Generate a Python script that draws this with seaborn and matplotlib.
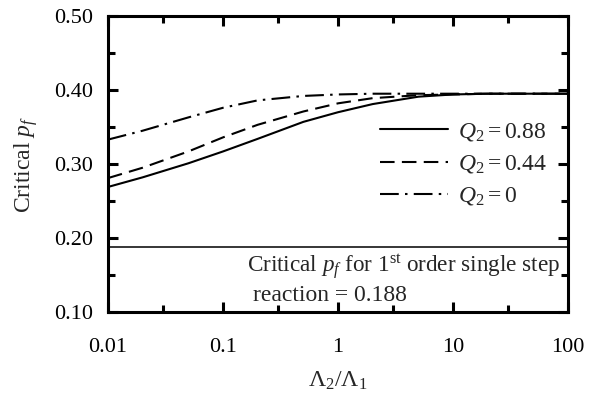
import numpy as np
import pandas as pd
import matplotlib
matplotlib.use("Agg")
import matplotlib.pyplot as plt
import seaborn as sns
from matplotlib.ticker import FixedLocator, FixedFormatter, NullFormatter

# ---- data ----
ratio = [0.01, 0.02, 0.05, 0.1, 0.2, 0.5, 1, 2, 5, 10, 20, 50, 100]
pf_q088 = [0.269, 0.282, 0.301, 0.317, 0.334, 0.357, 0.370, 0.381, 0.391, 0.394, 0.395, 0.395, 0.395]
pf_q044 = [0.281, 0.295, 0.317, 0.336, 0.353, 0.371, 0.382, 0.389, 0.393, 0.394, 0.395, 0.395, 0.395]
pf_q000 = [0.333, 0.345, 0.363, 0.376, 0.386, 0.392, 0.394, 0.395, 0.395, 0.395, 0.395, 0.395, 0.395]
series_labels = [r"$Q_2 = 0.88$", r"$Q_2 = 0.44$", r"$Q_2 = 0$"]
single_step_pf = 0.188

x_major = [0.01, 0.1, 1, 10, 100]
x_major_labels = ["0.01", "0.1", "1", "10", "100"]
x_minor = [0.03, 0.3, 3, 30]
y_major = [0.10, 0.20, 0.30, 0.40, 0.50]
y_major_labels = ["0.10", "0.20", "0.30", "0.40", "0.50"]
y_minor = [0.15, 0.25, 0.35, 0.45]

df = pd.DataFrame({
    "ratio": ratio * 3,
    "pf": pf_q088 + pf_q044 + pf_q000,
    "series": [series_labels[0]] * len(ratio) + [series_labels[1]] * len(ratio)
              + [series_labels[2]] * len(ratio),
})

sns.set_style("ticks")
plt.rcParams["font.family"] = ["Liberation Serif", "DejaVu Serif"]
plt.rcParams["mathtext.fontset"] = "custom"
plt.rcParams["mathtext.rm"] = "Liberation Serif"
plt.rcParams["mathtext.it"] = "Liberation Serif:italic"
plt.rcParams["mathtext.bf"] = "Liberation Serif:bold"

fig = plt.figure(figsize=(5.9, 3.95), dpi=100)
ax = fig.add_axes([0.183, 0.210, 0.780, 0.7495])

dashes = {series_labels[0]: "", series_labels[1]: (7, 3.5), series_labels[2]: (9, 3, 1.2, 3)}
sns.lineplot(data=df, x="ratio", y="pf", style="series", dashes=dashes,
             color="black", linewidth=1.5, ax=ax, legend=True)

ax.axhline(single_step_pf, color="black", linewidth=1.1)

ax.set_xscale("log")
ax.set_xlim(0.01, 100)
ax.set_ylim(0.10, 0.50)

ax.xaxis.set_major_locator(FixedLocator(x_major))
ax.xaxis.set_major_formatter(FixedFormatter(x_major_labels))
ax.xaxis.set_minor_locator(FixedLocator(x_minor))
ax.xaxis.set_minor_formatter(NullFormatter())
ax.yaxis.set_major_locator(FixedLocator(y_major))
ax.yaxis.set_major_formatter(FixedFormatter(y_major_labels))
ax.yaxis.set_minor_locator(FixedLocator(y_minor))

for s in ax.spines.values():
    s.set_linewidth(2.2)
    s.set_color("black")

ax.tick_params(axis="both", which="both", direction="in", top=True, right=True,
               width=2.2, colors="black", labelsize=16)
ax.tick_params(axis="both", which="major", length=7)
ax.tick_params(axis="both", which="minor", length=5)
ax.tick_params(axis="x", which="major", pad=19)
ax.tick_params(axis="y", which="major", pad=11)

ax.set_xlabel(r"$\Lambda_2/\Lambda_1$", fontsize=17, labelpad=9)
ax.set_ylabel(r"Critical $p_f$", fontsize=17, labelpad=10)

handles, labels = ax.get_legend_handles_labels()
leg = ax.legend(handles, labels, loc="upper left", bbox_to_anchor=(0.591, 0.645),
                frameon=False, fontsize=17, handlelength=2.9, handletextpad=0.42,
                labelspacing=0.43, borderpad=0, borderaxespad=0)

ax.text(0.302, 0.150, r"Critical $p_f$ for 1$^{\mathrm{st}}$ order single step",
        transform=ax.transAxes, fontsize=16.7, ha="left", va="center")
ax.text(0.315, 0.055, "reaction = 0.188",
        transform=ax.transAxes, fontsize=17, ha="left", va="center")

fig.savefig("out.png", dpi=100)
